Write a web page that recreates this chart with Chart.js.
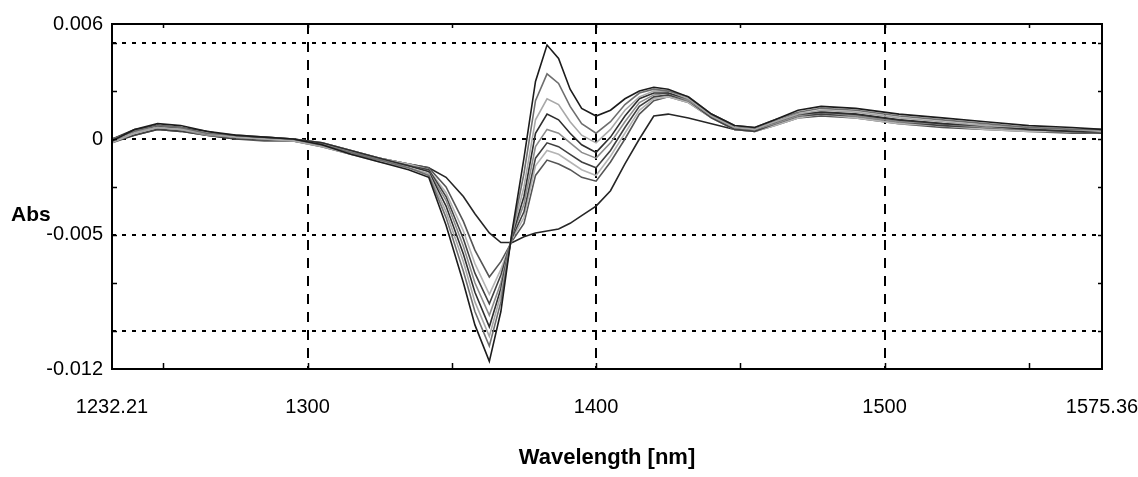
<!DOCTYPE html>
<html>
<head>
<meta charset="utf-8">
<title>Abs vs Wavelength</title>
<script src="https://cdn.jsdelivr.net/npm/chart.js@4.4.1/dist/chart.umd.min.js"></script>
<style>
    html, body { margin: 0; padding: 0; background: #fff; }
    #wrap { width: 1138px; height: 477px; position: relative; }
</style>
</head>
<body>
<div id="wrap"><canvas id="spectra-chart"></canvas></div>
<script>
// ------------------------
// DATA
// ------------------------

const wavelengths = [1232.21, 1240, 1248, 1256, 1265, 1275, 1285, 1295, 1305, 1315, 1325, 1335,
    1342, 1348, 1354, 1358, 1363, 1367, 1371, 1375, 1379, 1383, 1387, 1391, 1395, 1400,
    1405, 1410, 1415, 1420, 1425, 1432, 1440, 1448, 1455, 1462, 1470, 1478, 1490, 1505,
    1520, 1535, 1550, 1565, 1575.36];

// spectra, from the strongest band (deepest dip / highest peak) to the weakest
const spectrum1 = [-0.0001, 0.0005, 0.0008, 0.0007, 0.0004, 0.0002, 0.0001, 0.0000, -0.0003, -0.0008, -0.0012, -0.0016,
    -0.0020, -0.0045, -0.0075, -0.0097, -0.0116, -0.0090, -0.0047, -0.0010, 0.0030, 0.0049, 0.0042, 0.0026, 0.0016, 0.0012,
    0.0015, 0.0021, 0.0025, 0.0027, 0.0026, 0.0022, 0.0013, 0.0007, 0.0006, 0.0010, 0.0015, 0.0017, 0.0016, 0.0013,
    0.0011, 0.0009, 0.0007, 0.0006, 0.0005];
const spectrum2 = [0.0000, 0.0004, 0.0007, 0.0006, 0.0003, 0.0002, 0.0001, 0.0000, -0.0003, -0.0007, -0.0011, -0.0015,
    -0.0019, -0.0041, -0.0069, -0.0090, -0.0108, -0.0085, -0.0048, -0.0018, 0.0020, 0.0034, 0.0029, 0.0017, 0.0008, 0.0003,
    0.0009, 0.0018, 0.0024, 0.0026, 0.0025, 0.0022, 0.0013, 0.0007, 0.0006, 0.0010, 0.0014, 0.0016, 0.0015, 0.0012,
    0.0010, 0.0008, 0.0006, 0.0005, 0.0005];
const spectrum3 = [-0.0002, 0.0003, 0.0006, 0.0005, 0.0003, 0.0001, 0.0000, -0.0001, -0.0004, -0.0008, -0.0012, -0.0015,
    -0.0018, -0.0038, -0.0064, -0.0085, -0.0103, -0.0081, -0.0049, -0.0025, 0.0010, 0.0021, 0.0018, 0.0009, 0.0002, -0.0002,
    0.0005, 0.0015, 0.0022, 0.0025, 0.0025, 0.0021, 0.0012, 0.0006, 0.0005, 0.0009, 0.0013, 0.0015, 0.0014, 0.0011,
    0.0009, 0.0007, 0.0006, 0.0005, 0.0004];
const spectrum4 = [0.0000, 0.0005, 0.0007, 0.0006, 0.0004, 0.0001, 0.0001, 0.0000, -0.0002, -0.0006, -0.0010, -0.0014,
    -0.0017, -0.0035, -0.0060, -0.0080, -0.0098, -0.0078, -0.0050, -0.0030, 0.0003, 0.0013, 0.0010, 0.0003, -0.0003, -0.0007,
    0.0001, 0.0012, 0.0021, 0.0024, 0.0024, 0.0021, 0.0012, 0.0006, 0.0005, 0.0009, 0.0013, 0.0014, 0.0013, 0.0010,
    0.0008, 0.0007, 0.0005, 0.0004, 0.0004];
const spectrum5 = [-0.0001, 0.0003, 0.0006, 0.0005, 0.0002, 0.0001, 0.0000, -0.0001, -0.0003, -0.0007, -0.0011, -0.0014,
    -0.0017, -0.0032, -0.0056, -0.0075, -0.0092, -0.0075, -0.0050, -0.0034, -0.0004, 0.0005, 0.0003, -0.0002, -0.0007, -0.0010,
    -0.0002, 0.0009, 0.0019, 0.0023, 0.0024, 0.0020, 0.0012, 0.0006, 0.0005, 0.0008, 0.0012, 0.0014, 0.0012, 0.0009,
    0.0008, 0.0006, 0.0005, 0.0004, 0.0004];
const spectrum6 = [-0.0002, 0.0002, 0.0005, 0.0004, 0.0002, 0.0000, 0.0000, -0.0001, -0.0004, -0.0008, -0.0011, -0.0014,
    -0.0016, -0.0030, -0.0052, -0.0070, -0.0086, -0.0071, -0.0051, -0.0038, -0.0010, -0.0002, -0.0004, -0.0008, -0.0012, -0.0015,
    -0.0006, 0.0006, 0.0017, 0.0022, 0.0023, 0.0020, 0.0011, 0.0005, 0.0004, 0.0008, 0.0012, 0.0013, 0.0012, 0.0009,
    0.0007, 0.0006, 0.0005, 0.0004, 0.0003];
const spectrum7 = [0.0000, 0.0004, 0.0006, 0.0005, 0.0003, 0.0001, 0.0000, 0.0000, -0.0002, -0.0006, -0.0010, -0.0013,
    -0.0016, -0.0028, -0.0048, -0.0065, -0.0081, -0.0068, -0.0052, -0.0041, -0.0014, -0.0006, -0.0008, -0.0012, -0.0016, -0.0019,
    -0.0009, 0.0003, 0.0015, 0.0021, 0.0022, 0.0019, 0.0011, 0.0005, 0.0004, 0.0007, 0.0011, 0.0013, 0.0011, 0.0008,
    0.0007, 0.0005, 0.0004, 0.0004, 0.0003];
const spectrum8 = [-0.0001, 0.0002, 0.0005, 0.0004, 0.0002, 0.0000, -0.0001, -0.0001, -0.0003, -0.0007, -0.0010, -0.0013,
    -0.0015, -0.0025, -0.0043, -0.0058, -0.0072, -0.0064, -0.0053, -0.0044, -0.0019, -0.0011, -0.0013, -0.0016, -0.0020, -0.0022,
    -0.0012, 0.0000, 0.0013, 0.0020, 0.0022, 0.0019, 0.0011, 0.0005, 0.0004, 0.0007, 0.0011, 0.0012, 0.0011, 0.0008,
    0.0006, 0.0005, 0.0004, 0.0003, 0.0003];
// the odd one out: shallow dip, no peak at 1383
const spectrumRef = [0.0000, 0.0004, 0.0007, 0.0005, 0.0003, 0.0001, 0.0000, 0.0000, -0.0002, -0.0006, -0.0010, -0.0013,
    -0.0015, -0.0020, -0.0030, -0.0039, -0.0049, -0.0054, -0.0054, -0.0051, -0.0049, -0.0048, -0.0047, -0.0044, -0.0040, -0.0035,
    -0.0027, -0.0013, 0.0000, 0.0012, 0.0013, 0.0011, 0.0008, 0.0005, 0.0005, 0.0008, 0.0012, 0.0014, 0.0013, 0.0010,
    0.0008, 0.0006, 0.0005, 0.0004, 0.0004];

const spectra = [spectrum1, spectrum2, spectrum3, spectrum4, spectrum5, spectrum6, spectrum7, spectrum8, spectrumRef];
const lineColors = ["#1c1c1c", "#6e6e6e", "#a8a8a8", "#2e2e2e", "#8c8c8c", "#404040", "#b4b4b4", "#555555", "#262626"];

// axes
const xMin = 1232.21;
const xMax = 1575.36;
const xTicks = [1232.21, 1300, 1400, 1500, 1575.36];
const xGrid = [1300, 1400, 1500];
const xMinorTicks = [1250, 1300, 1350, 1400, 1450, 1500, 1550];

const yMin = -0.012;
const yMax = 0.006;
const yTicks = [-0.012, -0.005, 0, 0.006];
const yGrid = [-0.01, -0.005, 0, 0.005];
const yMinorTicks = [-0.01, -0.0075, -0.005, -0.0025, 0, 0.0025, 0.005];

const xTitle = "Wavelength [nm]";
const yTitle = "Abs";

const FONT = '"Liberation Sans", Arial, sans-serif';

// ------------------------
// FRAME, MINOR TICKS, Abs
// ------------------------

const framePlugin = {
    id: "frame",
    afterDraw(chart) {
        const { ctx, chartArea: a, scales: { x, y } } = chart;

        ctx.save();
        ctx.strokeStyle = "#000";
        ctx.lineWidth = 2;
        ctx.strokeRect(a.left, a.top, a.right - a.left, a.bottom - a.top);

        ctx.lineWidth = 1.5;
        ctx.beginPath();
        xMinorTicks.forEach(v => {
            const px = Math.round(x.getPixelForValue(v)) + 0.5;
            ctx.moveTo(px, a.bottom);
            ctx.lineTo(px, a.bottom - 6);
            ctx.moveTo(px, a.top);
            ctx.lineTo(px, a.top + 4);
        });
        yMinorTicks.forEach(v => {
            const py = Math.round(y.getPixelForValue(v)) + 0.5;
            ctx.moveTo(a.left, py);
            ctx.lineTo(a.left + 5, py);
            ctx.moveTo(a.right, py);
            ctx.lineTo(a.right - 4, py);
        });
        ctx.stroke();

        ctx.fillStyle = "#000";
        ctx.font = `bold 21px ${FONT}`;
        ctx.textAlign = "left";
        ctx.textBaseline = "middle";
        ctx.fillText(yTitle, 11, y.getPixelForValue(-0.005) - 20);
        ctx.restore();
    }
};

// ------------------------
// CHART
// ------------------------

function renderSpectraChart() {

    const datasets = spectra.map((s, i) => ({
        data: wavelengths.map((w, j) => ({ x: w, y: s[j] })),
        borderColor: lineColors[i],
        borderWidth: 1.6,
        pointRadius: 0,
        tension: 0,
        fill: false
    }));

    new Chart(document.getElementById("spectra-chart"), {

        type: "line",

        data: { datasets },

        options: {
            responsive: true,
            maintainAspectRatio: false,
            animation: false,
            layout: { padding: { left: 0, top: 24, right: 36, bottom: 4 } },
            plugins: {
                legend: { display: false },
                tooltip: { enabled: false }
            },
            scales: {
                x: {
                    type: "linear",
                    min: xMin,
                    max: xMax,
                    afterBuildTicks: s => { s.ticks = [...xTicks, ...xGrid].filter((v, i, arr) => arr.indexOf(v) === i).sort((p, q) => p - q).map(v => ({ value: v })); },
                    afterFit: s => {
                        s.height = 104;
                        s.paddingLeft = 0;
                        s.paddingRight = 0;
                    },
                    ticks: {
                        autoSkip: false,
                        maxRotation: 0,
                        padding: 26,
                        color: "#000",
                        font: { family: FONT, size: 20 },
                        callback: v => xTicks.includes(v) ? String(v) : ""
                    },
                    grid: {
                        drawTicks: false,
                        lineWidth: 2,
                        color: c => xGrid.includes(c.tick && c.tick.value) ? "#000" : "rgba(0,0,0,0)"
                    },
                    border: { display: false, dash: [10, 8] },
                    title: {
                        display: true,
                        text: xTitle,
                        color: "#000",
                        padding: { top: 0, bottom: 2 },
                        font: { family: FONT, size: 22, weight: "bold" }
                    }
                },
                y: {
                    min: yMin,
                    max: yMax,
                    afterBuildTicks: s => { s.ticks = [...yTicks, ...yGrid].filter((v, i, arr) => arr.indexOf(v) === i).sort((p, q) => p - q).map(v => ({ value: v })); },
                    afterFit: s => {
                        s.width = 112;
                        s.paddingTop = 0;
                        s.paddingBottom = 0;
                    },
                    ticks: {
                        autoSkip: false,
                        padding: 9,
                        color: "#000",
                        font: { family: FONT, size: 20 },
                        callback: v => yTicks.includes(v) ? String(v) : ""
                    },
                    grid: {
                        drawTicks: false,
                        lineWidth: 2,
                        color: c => yGrid.includes(c.tick && c.tick.value) ? "#000" : "rgba(0,0,0,0)"
                    },
                    border: { display: false, dash: [4, 6] }
                }
            }
        },

        plugins: [framePlugin]
    });
}

renderSpectraChart();
</script>
</body>
</html>
